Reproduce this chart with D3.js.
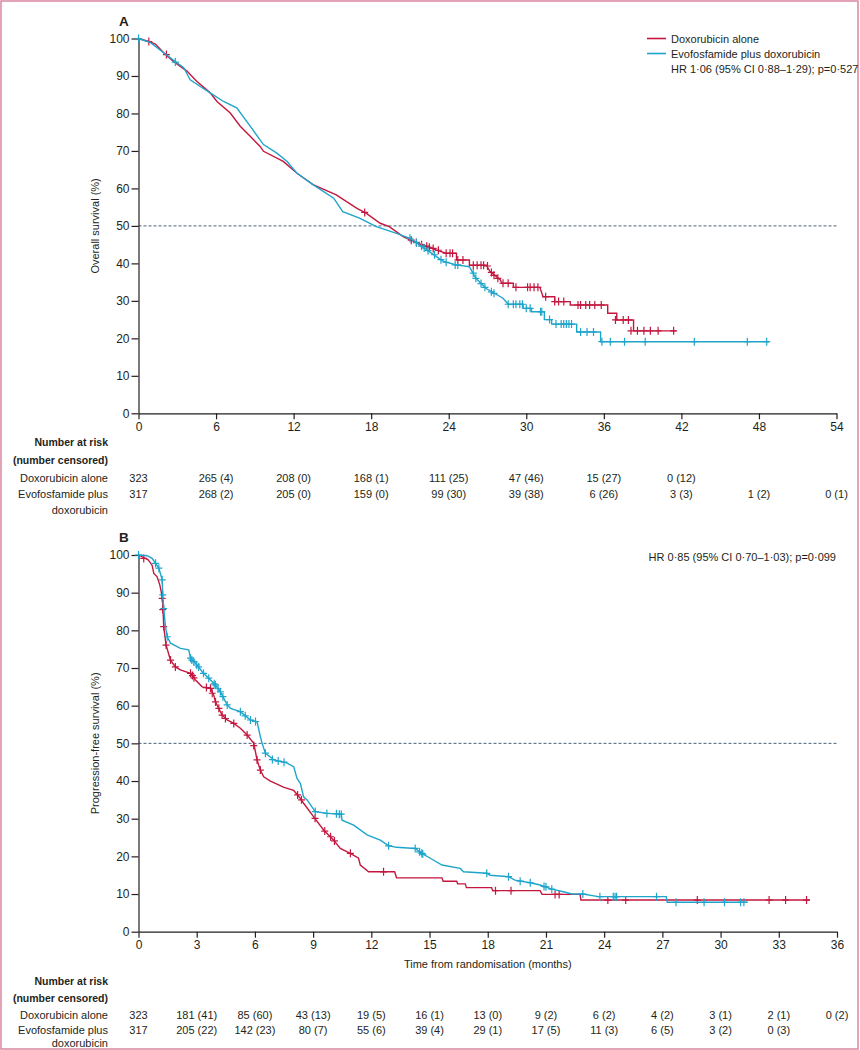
<!DOCTYPE html>
<html><head><meta charset="utf-8">
<script src="https://cdn.jsdelivr.net/npm/d3@7"></script>
<style>
body{margin:0;background:#fff}
text{font-family:"Liberation Sans",Arial,sans-serif;fill:#231f20}
</style>
</head><body>
<svg id="chart" width="860" height="1050"></svg>
<script>
// ---------- DATA ----------
const seriesNames = ["Doxorubicin alone", "Evofosfamide plus doxorubicin"];
const yTicks = [0,10,20,30,40,50,60,70,80,90,100];
const osXTicks = [0,6,12,18,24,30,36,42,48,54];
const pfsXTicks = [0,3,6,9,12,15,18,21,24,27,30,33,36];

// Panel A: overall survival (months, %)
const osDoxCurve = [[0,100],[0.8,99.2],[1.3,98.5],[1.95,96.2],[2.7,93.9],[3.75,91.3],[4.5,88.6],[5.55,85.5],[6.07,83.2],[7.1,80.1],[7.87,76.6],[8.64,73.9],[9.41,71.2],[9.67,69.9],[11.2,67.2],[12.24,64.1],[13.5,61.0],[15.3,58.3],[16.9,54.7],[17.6,53.4],[18.7,50.7],[19.4,49.8],[20.5,47.1],[21.6,45.4],[23.0,43.6],[23.8,42.7],[24.6,42.7],[24.6,40.9],[25.6,40.9],[25.6,39.5],[26.9,39.5],[27.2,37.8],[28.0,35.6],[28.1,34.7],[29.0,34.7],[29.0,33.6],[31.05,33.6],[31.3,31.1],[32.2,31.1],[32.2,29.8],[33.4,29.8],[33.4,28.9],[36.3,28.9],[36.3,26.7],[37.0,26.7],[37.0,24.9],[38.3,24.9],[38.3,22.0],[41.6,22.0]];
const osEvoCurve = [[0,100],[0.93,98.9],[1.95,96.2],[2.98,93.5],[3.5,92.2],[4.0,89.0],[4.78,87.2],[5.55,85.5],[6.58,83.2],[7.6,81.5],[8.64,76.6],[9.67,71.7],[10.7,69.4],[11.5,67.2],[12.24,64.1],[13.5,61.0],[15.1,57.4],[15.8,53.8],[17.1,52.1],[18.4,49.8],[19.96,48.0],[21.0,46.7],[22.3,43.6],[23.6,40.5],[24.6,39.6],[25.6,39.1],[26.1,36.0],[26.9,33.3],[28.2,30.7],[28.6,29.1],[29.76,29.1],[29.76,28.0],[30.4,28.0],[30.4,27.1],[31.4,27.1],[31.4,25.0],[31.96,25.0],[31.96,23.8],[33.9,23.8],[33.9,21.7],[35.75,21.7],[35.75,19.1],[48.8,19.1]];
const osDoxCensor = [[0.8,99.2],[2.16,95.7],[17.5,53.6],[21.1,46.2],[21.5,45.6],[21.9,45.0],[22.3,44.6],[22.5,44.3],[22.8,44.0],[23.2,43.5],[23.8,42.7],[24.1,42.7],[24.3,42.7],[24.7,40.9],[25.1,40.9],[25.9,39.5],[26.2,39.5],[26.5,39.5],[26.7,39.5],[27.0,39.3],[27.3,37.6],[27.5,36.8],[27.8,36.0],[28.2,34.7],[28.6,34.7],[29.2,33.6],[30.1,33.6],[30.3,33.6],[30.6,33.6],[30.9,33.6],[31.5,31.1],[32.2,29.8],[32.5,29.8],[32.9,29.8],[34.0,28.9],[34.2,28.9],[34.6,28.9],[34.9,28.9],[35.3,28.9],[35.8,28.9],[36.9,24.9],[37.5,24.9],[37.9,24.9],[38.1,22.0],[38.6,22.0],[39.1,22.0],[39.6,22.0],[40.2,22.0],[41.4,22.0]];
const osEvoCensor = [[0,100],[2.85,93.7],[21.0,46.7],[21.5,45.5],[21.9,44.6],[22.1,44.1],[22.4,43.4],[22.9,42.3],[23.4,41.0],[23.8,40.3],[24.5,39.6],[24.7,39.6],[25.9,37.4],[26.1,36.0],[26.5,34.6],[26.8,33.6],[27.3,32.4],[27.5,32.0],[28.6,29.1],[29.0,29.1],[29.2,29.1],[29.5,29.1],[29.7,29.1],[30.0,28.0],[30.3,28.0],[31.1,27.1],[31.2,27.1],[31.8,25.0],[32.3,23.8],[32.7,23.8],[32.9,23.8],[33.1,23.8],[33.3,23.8],[33.5,23.8],[34.2,21.7],[34.7,21.7],[35.2,21.7],[35.85,19.1],[36.5,19.1],[37.6,19.1],[39.2,19.1],[43.0,19.1],[47.1,19.1],[48.6,19.1]];
const osRiskDox = ["323","265 (4)","208 (0)","168 (1)","111 (25)","47 (46)","15 (27)","0 (12)"];
const osRiskEvo = ["317","268 (2)","205 (0)","159 (0)","99 (30)","39 (38)","6 (26)","3 (3)","1 (2)","0 (1)"];

// Panel B: progression-free survival (months, %)
const pfsDoxCurve = [[0,100],[0.5,98.7],[0.7,97.3],[0.79,95.1],[0.96,94.2],[1.1,92.0],[1.17,90.3],[1.25,87.6],[1.3,81.0],[1.42,76.1],[1.65,72.1],[1.9,70.3],[2.16,69.5],[2.68,68.6],[2.94,66.8],[3.28,65.0],[3.71,64.6],[3.88,62.8],[3.96,61.1],[4.13,59.3],[4.31,57.5],[4.57,56.2],[4.91,55.3],[5.25,54.0],[5.6,52.2],[5.94,50.0],[6.11,45.6],[6.28,42.9],[6.45,41.1],[6.8,40.0],[7.5,38.3],[8.0,37.5],[8.34,35.4],[8.51,34.1],[9.03,30.5],[9.54,27.0],[10.06,24.3],[10.4,22.1],[10.92,20.8],[11.34,19.5],[11.43,17.7],[11.86,15.9],[13.2,15.9],[13.3,14.3],[15.64,14.3],[15.7,13.4],[16.4,13.4],[16.45,12.7],[16.84,12.7],[16.9,11.7],[18.2,11.7],[18.25,10.9],[20.7,10.9],[20.8,9.9],[22.76,9.9],[22.8,8.4],[34.6,8.4]];
const pfsEvoCurve = [[0,100],[0.45,99.8],[0.7,99.1],[0.88,97.8],[1.05,96.5],[1.22,93.4],[1.25,89.4],[1.3,85.8],[1.39,81.0],[1.48,78.3],[1.65,76.6],[2.16,75.2],[2.59,74.8],[2.68,72.6],[2.85,71.7],[3.1,70.3],[3.28,69.0],[3.62,67.3],[3.96,65.5],[4.22,63.7],[4.39,62.0],[4.57,60.2],[4.74,59.3],[5.25,58.4],[5.77,56.2],[6.11,55.7],[6.28,51.8],[6.37,50.0],[6.54,47.4],[6.97,45.6],[7.6,44.9],[8.0,43.8],[8.17,40.7],[8.34,39.4],[8.51,35.8],[8.69,35.0],[9.11,31.9],[9.71,31.4],[10.45,31.2],[10.49,29.6],[11.09,28.3],[11.78,25.7],[12.46,24.3],[12.9,22.8],[13.3,22.4],[14.26,22.1],[14.6,20.8],[15.04,19.5],[15.64,17.7],[16.58,16.8],[16.75,15.9],[17.95,15.5],[18.13,15.0],[19.07,14.6],[19.4,13.7],[20.19,13.0],[20.7,12.4],[21.3,11.3],[21.9,10.6],[22.33,10.0],[22.9,10.0],[23.7,9.3],[27.2,9.3],[27.25,7.8],[31.4,7.8]];
const pfsDoxCensor = [[0.27,99.1],[1.22,88.5],[1.25,85.5],[1.3,81.0],[1.42,76.1],[1.65,72.1],[1.9,70.3],[2.68,68.6],[2.78,68.0],[2.86,67.4],[3.5,64.8],[3.71,64.6],[3.8,63.3],[3.97,61.0],[4.14,59.3],[4.31,57.5],[4.48,56.6],[4.91,55.3],[5.6,52.2],[5.94,49.4],[6.11,45.6],[6.28,42.9],[8.2,36.3],[8.4,35.0],[9.1,30.1],[9.6,26.7],[9.9,25.2],[10.1,24.1],[10.92,20.8],[12.63,15.9],[18.4,10.9],[19.2,10.9],[21.47,9.9],[21.68,9.9],[24.19,8.4],[25.11,8.4],[28.8,8.4],[32.5,8.4],[33.35,8.4],[34.43,8.4]];
const pfsEvoCensor = [[0,100],[0.88,97.8],[1.05,96.5],[1.22,93.4],[1.25,89.4],[1.3,85.8],[1.48,78.3],[2.68,72.6],[2.75,72.1],[2.85,71.7],[3.0,70.8],[3.1,70.3],[3.35,68.6],[3.62,67.3],[3.9,65.8],[3.96,65.5],[4.1,64.5],[4.22,63.7],[4.35,62.4],[4.57,60.2],[5.25,58.4],[5.5,57.3],[5.77,56.2],[6.03,55.8],[6.54,47.4],[6.9,45.7],[7.2,45.3],[7.5,45.0],[9.11,31.9],[9.71,31.4],[10.2,31.3],[10.35,31.2],[10.45,31.2],[12.89,22.8],[14.26,22.1],[14.49,21.2],[14.6,20.8],[14.65,20.6],[17.95,15.5],[19.07,14.6],[19.67,13.4],[20.19,13.0],[20.9,12.0],[21.0,11.9],[21.3,11.3],[22.9,10.0],[23.78,9.3],[24.47,9.3],[24.56,9.3],[24.64,9.3],[26.7,9.3],[27.7,7.8],[29.15,7.8],[30.2,7.8],[31.03,7.8],[31.2,7.8]];
const pfsRiskDox = ["323","181 (41)","85 (60)","43 (13)","19 (5)","16 (1)","13 (0)","9 (2)","6 (2)","4 (2)","3 (1)","2 (1)","0 (2)"];
const pfsRiskEvo = ["317","205 (22)","142 (23)","80 (7)","55 (6)","39 (4)","29 (1)","17 (5)","11 (3)","6 (5)","3 (2)","0 (3)"];

const riskHeader = ["Number at risk","(number censored)"];
const riskRowLabels = [["Doxorubicin alone"],["Evofosfamide plus","doxorubicin"]];

// ---------- STYLE ----------
const RED = "#c4173f", BLUE = "#1fa5cb", INK = "#231f20";
const svg = d3.select("#chart");

svg.append("rect").attr("x",1).attr("y",1).attr("width",857).attr("height",1048)
  .attr("fill","none").attr("stroke","#d9879f").attr("stroke-width",1.5);

function panel(cfg){
  const x = d3.scaleLinear().domain(cfg.xDomain).range([138.5, cfg.xRight]);
  const y = d3.scaleLinear().domain([0,100]).range([cfg.yBottom, cfg.yTop]);
  const g = svg.append("g");

  g.append("text").attr("x",119).attr("y",cfg.yTop-13).text(cfg.letter)
    .style("font-weight","bold").style("font-size","13.5px");

  g.append("line").attr("x1",x(cfg.xDomain[0])).attr("x2",x(cfg.xDomain[1]))
    .attr("y1",y(50)).attr("y2",y(50))
    .attr("stroke","#46647a").attr("stroke-width",1).attr("stroke-dasharray","3,2");

  const ya = g.append("g").attr("transform",`translate(${x(0)},0)`)
    .call(d3.axisLeft(y).tickValues(yTicks).tickSize(7).tickSizeOuter(0).tickPadding(2));
  const xa = g.append("g").attr("transform",`translate(0,${y(0)})`)
    .call(d3.axisBottom(x).tickValues(cfg.xTicks).tickSize(6).tickSizeOuter(0).tickPadding(3));
  [ya,xa].forEach(a=>{
    a.selectAll("path,line").attr("stroke",INK).attr("stroke-width",1.2);
    a.selectAll("text").style("font-size","12px").attr("fill",INK)
      .style("font-family","'Liberation Sans',Arial,sans-serif");
  });

  g.append("text").attr("transform",`translate(99,${y(50)}) rotate(-90)`)
    .attr("text-anchor","middle").style("font-size","11px").text(cfg.yTitle);

  if (cfg.xTitle){
    g.append("text").attr("x",(x(cfg.xDomain[0])+x(cfg.xDomain[1]))/2).attr("y",cfg.xTitleY)
      .attr("text-anchor","middle").style("font-size","11px").text(cfg.xTitle);
  }

  const line = d3.line().x(d=>x(d[0])).y(d=>y(d[1]));
  const series = [
    {curve: cfg.doxCurve, cens: cfg.doxCens, color: RED},
    {curve: cfg.evoCurve, cens: cfg.evoCens, color: BLUE}
  ];
  series.forEach(s=>{
    g.append("path").datum(s.curve).attr("d",line)
      .attr("fill","none").attr("stroke",s.color).attr("stroke-width",1.4)
      .attr("stroke-linejoin","miter");
    g.append("g").selectAll("path").data(s.cens).join("path")
      .attr("d",d=>`M${x(d[0])-3.5},${y(d[1])}h7M${x(d[0])},${y(d[1])-4}v8`)
      .attr("stroke",s.color).attr("stroke-width",1.2).attr("fill","none");
  });

  const rows = cfg.riskRows;
  g.append("text").attr("x",108).attr("y",rows[0]).attr("text-anchor","end")
    .style("font-weight","bold").style("font-size","10.5px").text(riskHeader[0]);
  g.append("text").attr("x",108).attr("y",rows[1]).attr("text-anchor","end")
    .style("font-weight","bold").style("font-size","10.5px").text(riskHeader[1]);
  g.append("text").attr("x",108).attr("y",rows[2]).attr("text-anchor","end")
    .style("font-size","11px").text(riskRowLabels[0][0]);
  g.append("text").attr("x",108).attr("y",rows[3]).attr("text-anchor","end")
    .style("font-size","11px").text(riskRowLabels[1][0]);
  g.append("text").attr("x",108).attr("y",rows[4]).attr("text-anchor","end")
    .style("font-size","11px").text(riskRowLabels[1][1]);
  g.append("g").selectAll("text").data(cfg.riskDox).join("text")
    .attr("x",(d,i)=>x(cfg.xTicks[i])).attr("y",rows[2]).attr("text-anchor","middle")
    .style("font-size","11px").text(d=>d);
  g.append("g").selectAll("text").data(cfg.riskEvo).join("text")
    .attr("x",(d,i)=>x(cfg.xTicks[i])).attr("y",rows[3]).attr("text-anchor","middle")
    .style("font-size","11px").text(d=>d);
  return {x,y,g};
}

panel({
  letter:"A", xDomain:[0,54], xRight:836.5, yTop:38.5, yBottom:413.3,
  xTicks:osXTicks, yTitle:"Overall survival (%)",
  doxCurve:osDoxCurve, evoCurve:osEvoCurve, doxCens:osDoxCensor, evoCens:osEvoCensor,
  riskDox:osRiskDox, riskEvo:osRiskEvo, riskRows:[446,464,482,498,514]
});
panel({
  letter:"B", xDomain:[0,36], xRight:837, yTop:555, yBottom:931.7,
  xTicks:pfsXTicks, yTitle:"Progression-free survival (%)",
  xTitle:"Time from randomisation (months)", xTitleY:968,
  doxCurve:pfsDoxCurve, evoCurve:pfsEvoCurve, doxCens:pfsDoxCensor, evoCens:pfsEvoCensor,
  riskDox:pfsRiskDox, riskEvo:pfsRiskEvo, riskRows:[985,1002,1019,1034,1047]
});

const leg = svg.append("g");
[RED,BLUE].forEach((c,i)=>{
  leg.append("line").attr("x1",647).attr("x2",666).attr("y1",38.5+15*i).attr("y2",38.5+15*i)
    .attr("stroke",c).attr("stroke-width",1.6);
  leg.append("text").attr("x",671).attr("y",42.5+15*i).style("font-size","11px").text(seriesNames[i]);
});
leg.append("text").attr("x",671).attr("y",73).style("font-size","11px")
  .text("HR 1·06 (95% CI 0·88–1·29); p=0·527");
svg.append("text").attr("x",836).attr("y",561).attr("text-anchor","end").style("font-size","11px")
  .text("HR 0·85 (95% CI 0·70–1·03); p=0·099");
</script>
</body></html>
